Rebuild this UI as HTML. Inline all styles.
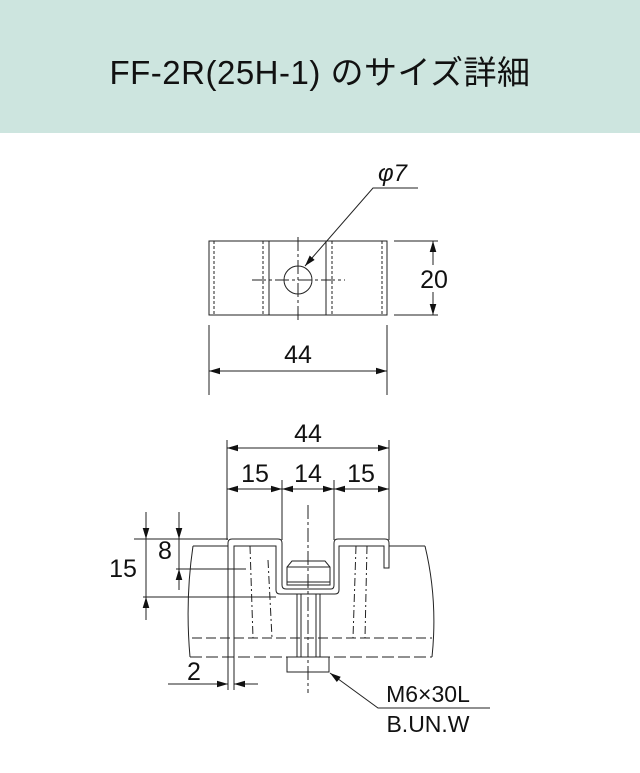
<!DOCTYPE html>
<html><head><meta charset="utf-8"><style>
html,body{margin:0;padding:0;background:#fff;}
.hd{position:absolute;left:0;top:0;width:640px;height:133px;background:#cde5df;}
.hd div{position:absolute;left:0;width:640px;top:46px;text-align:center;font:33px "Liberation Sans","Noto Sans CJK JP",sans-serif;color:#111;letter-spacing:0.5px;}
svg{position:absolute;left:0;top:0;}
text{font-family:"Liberation Sans",sans-serif;fill:#111;}
</style></head><body>
<div class="hd"><div>FF-2R(25H-1) のサイズ詳細</div></div>
<svg width="640" height="773" viewBox="0 0 640 773" stroke="#222" stroke-width="1" fill="none">
<defs>
<marker id="a" viewBox="0 0 10 6" refX="10" refY="3" markerWidth="11" markerHeight="7" orient="auto-start-reverse" markerUnits="userSpaceOnUse"><path d="M0,0L10,3L0,6z" fill="#111" stroke="none"/></marker>
</defs>
<!-- top view -->
<rect x="209" y="241" width="178" height="74"/>
<line x1="269" y1="241" x2="269" y2="315"/>
<line x1="326" y1="241" x2="326" y2="315"/>
<g stroke-dasharray="3,2">
<line x1="214" y1="241" x2="214" y2="315"/><line x1="263" y1="241" x2="263" y2="315"/>
<line x1="332" y1="241" x2="332" y2="315"/><line x1="382" y1="241" x2="382" y2="315"/>
</g>
<circle cx="298" cy="280" r="14" fill="#fff"/>
<line x1="252" y1="280" x2="345" y2="280" stroke-dasharray="14,3,3,3"/>
<line x1="298" y1="237" x2="298" y2="320" stroke-dasharray="14,3,3,3"/>
<polyline points="418,188 373,188 305,266" marker-end="url(#a)"/>
<text x="378" y="181" font-size="24" stroke="none" font-style="italic">φ7</text>
<line x1="394" y1="241" x2="438" y2="241"/><line x1="394" y1="315" x2="438" y2="315"/>
<line x1="433" y1="241" x2="433" y2="265" marker-start="url(#a)"/>
<line x1="433" y1="292" x2="433" y2="315" marker-end="url(#a)"/>
<text x="434" y="288" font-size="25" stroke="none" text-anchor="middle">20</text>
<line x1="209" y1="325" x2="209" y2="395"/><line x1="387" y1="325" x2="387" y2="395"/>
<line x1="209" y1="371" x2="387" y2="371" marker-start="url(#a)" marker-end="url(#a)"/>
<text x="298" y="363" font-size="25" stroke="none" text-anchor="middle">44</text>
<!-- lower dims -->
<line x1="227" y1="440" x2="227" y2="540"/><line x1="389" y1="440" x2="389" y2="540"/>
<line x1="282" y1="480" x2="282" y2="540"/><line x1="334" y1="480" x2="334" y2="540"/>
<line x1="227" y1="448" x2="389" y2="448" marker-start="url(#a)" marker-end="url(#a)"/>
<text x="308" y="442" font-size="25" stroke="none" text-anchor="middle">44</text>
<line x1="227" y1="489" x2="282" y2="489" marker-start="url(#a)" marker-end="url(#a)"/>
<line x1="282" y1="489" x2="334" y2="489" marker-start="url(#a)" marker-end="url(#a)"/>
<line x1="334" y1="489" x2="389" y2="489" marker-start="url(#a)" marker-end="url(#a)"/>
<text x="255" y="482" font-size="25" stroke="none" text-anchor="middle">15</text>
<text x="308" y="482" font-size="25" stroke="none" text-anchor="middle">14</text>
<text x="361" y="482" font-size="25" stroke="none" text-anchor="middle">15</text>
<!-- beam -->
<path d="M193,546 Q185,600 190,657"/><path d="M425,546 Q438,600 432,657"/>
<line x1="193" y1="546" x2="228" y2="546"/><line x1="389" y1="546" x2="425" y2="546"/>
<line x1="234" y1="546" x2="276" y2="546"/><line x1="339" y1="546" x2="384" y2="546"/>
<line x1="192" y1="638" x2="432" y2="638" stroke-dasharray="10,4"/>
<line x1="190" y1="657" x2="432" y2="657" stroke-dasharray="12,4"/>
<g stroke-dasharray="8,3,2,3">
<line x1="250" y1="546" x2="253" y2="638"/><line x1="268" y1="560" x2="272" y2="638"/>
<line x1="356" y1="546" x2="353" y2="638"/><line x1="367" y1="546" x2="365" y2="638"/>
</g>
<!-- channel -->
<path d="M228,690 L228,543 Q228,539 232,539 L278,539 Q282,539 282,543 L282,585 Q282,589 286,589 L331,589 Q334,589 334,585 L334,543 Q334,539 338,539 L385,539 Q389,539 389,543 L389,568 L384,568 L384,546 L339,546 L339,590 Q339,594 335,594 L280,594 Q276,594 276,590 L276,546 L234,546 L234,690"/>
<!-- nut & bolt -->
<path d="M287,585 L287,567 L292,561 L325,561 L330,567 L330,585 Z"/>
<line x1="287" y1="567" x2="330" y2="567"/><line x1="287" y1="582" x2="330" y2="582"/>
<line x1="297" y1="594" x2="297" y2="657"/><line x1="320" y1="594" x2="320" y2="657"/>
<line x1="301" y1="594" x2="301" y2="657"/><line x1="316" y1="594" x2="316" y2="657"/>
<rect x="287" y="657" width="42" height="15"/>
<line x1="308" y1="505" x2="308" y2="693" stroke-dasharray="14,3,3,3"/>
<!-- left dims -->
<line x1="134" y1="539" x2="228" y2="539"/>
<line x1="143" y1="597" x2="276" y2="597"/>
<line x1="176" y1="569" x2="246" y2="569"/>
<line x1="146" y1="512" x2="146" y2="539" marker-end="url(#a)"/>
<line x1="146" y1="539" x2="146" y2="597"/>
<line x1="146" y1="620" x2="146" y2="597" marker-end="url(#a)"/>
<line x1="179" y1="512" x2="179" y2="539" marker-end="url(#a)"/>
<line x1="179" y1="539" x2="179" y2="569"/>
<line x1="179" y1="590" x2="179" y2="569" marker-end="url(#a)"/>
<text x="123" y="577" font-size="25" stroke="none" text-anchor="middle">15</text>
<text x="165" y="559" font-size="25" stroke="none" text-anchor="middle">8</text>
<line x1="168" y1="684" x2="228" y2="684" marker-end="url(#a)"/>
<line x1="258" y1="684" x2="234" y2="684" marker-end="url(#a)"/>
<text x="194" y="680" font-size="25" stroke="none" text-anchor="middle">2</text>
<polyline points="490,708 378,708 330,673" marker-end="url(#a)"/>
<text x="428" y="702" font-size="23" stroke="none" text-anchor="middle">M6×30L</text>
<text x="428" y="732" font-size="23" stroke="none" text-anchor="middle">B.UN.W</text>
</svg>
</body></html>
